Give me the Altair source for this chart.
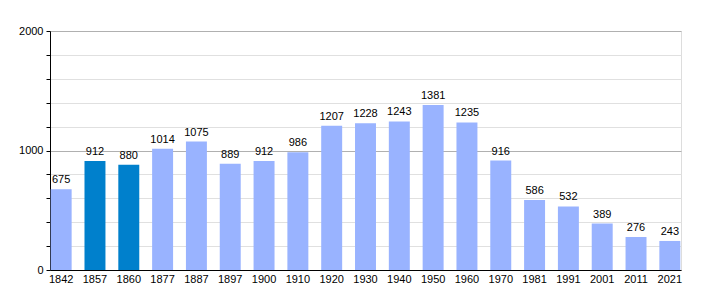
import altair as alt
import pandas as pd

years = ["1842", "1857", "1860", "1877", "1887", "1897", "1900", "1910", "1920", "1930",
         "1940", "1950", "1960", "1970", "1981", "1991", "2001", "2011", "2021"]
population = [675, 912, 880, 1014, 1075, 889, 912, 986, 1207, 1228,
              1243, 1381, 1235, 916, 586, 532, 389, 276, 243]
highlight = ["no", "yes", "yes", "no", "no", "no", "no", "no", "no", "no",
             "no", "no", "no", "no", "no", "no", "no", "no", "no"]
y_ticks = [0, 200, 400, 600, 800, 1000, 1200, 1400, 1600, 1800, 2000]

df = pd.DataFrame({"year": years, "pop": population, "hl": highlight})

FONT = "Liberation Sans"

x = alt.X("year:N", sort=years, title=None,
          scale=alt.Scale(paddingInner=0.38, paddingOuter=0.02),
          axis=alt.Axis(labelAngle=0, ticks=False, domainColor="black",
                        labelFont=FONT, labelFontSize=11, labelColor="black",
                        labelPadding=3))
y = alt.Y("pop:Q", title=None,
          scale=alt.Scale(domain=[0, 2000], nice=False),
          axis=alt.Axis(values=y_ticks, format="d", labelOverlap=False,
                        labelExpr="datum.value % 1000 === 0 ? datum.label : ''",
                        grid=True,
                        gridColor={"condition": {"test": "datum.value % 1000 === 0", "value": "#b0b0b0"},
                                   "value": "#e0e0e0"},
                        tickSize=4, tickColor="black", domainColor="black",
                        labelFont=FONT, labelFontSize=11, labelColor="black",
                        labelPadding=3))

base = alt.Chart(df).encode(x=x, y=y)

bars = base.mark_bar().encode(
    color=alt.Color("hl:N", scale=alt.Scale(domain=["no", "yes"], range=["#99B3FF", "#0080CC"]),
                    legend=None),
)
labels = base.mark_text(baseline="bottom", dy=-4, font=FONT, fontSize=11, color="black").encode(
    text=alt.Text("pop:Q", format="d")
)

chart = alt.layer(bars, labels).properties(
    width=631, height=239,
    autosize=alt.AutoSizeParams(type="none"),
    padding={"left": 50, "top": 31, "right": 29, "bottom": 30},
).configure_view(stroke=None).configure(background="white")

chart.save("out.html", embed_options={"renderer": "svg", "actions": False})
